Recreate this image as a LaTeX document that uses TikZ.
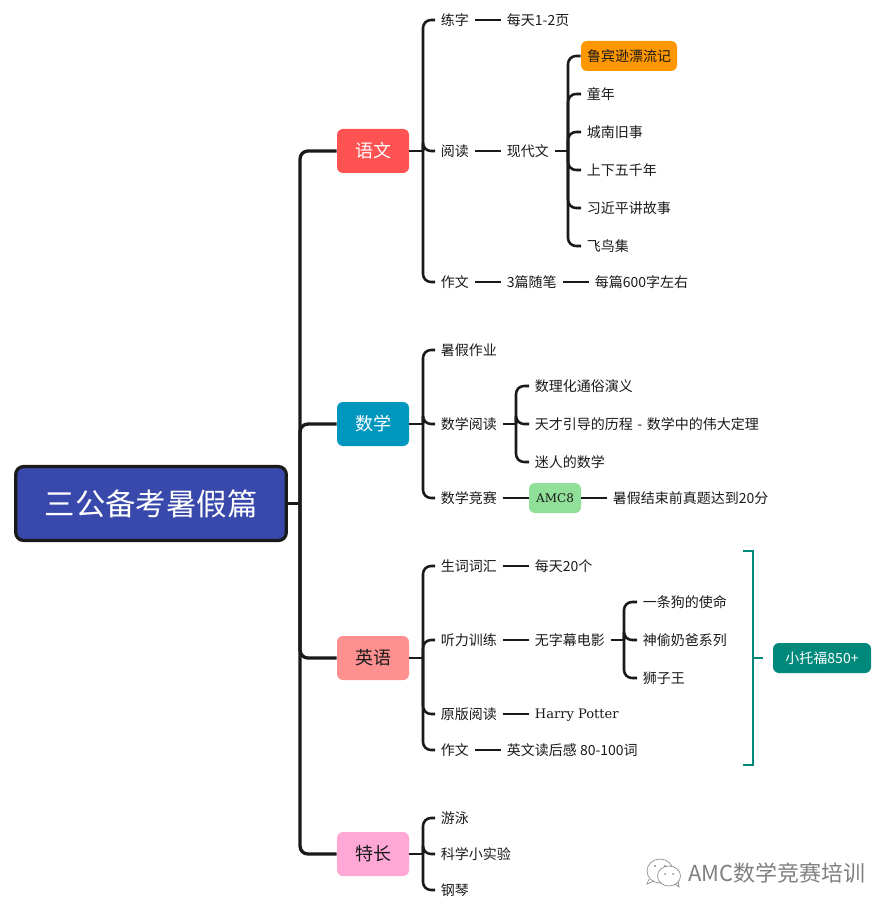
\documentclass[tikz,border=0pt]{standalone}
\usepackage{fontspec}
\setmainfont{Noto Sans CJK SC}
\newfontfamily\latfont{DejaVu Serif}
\definecolor{ink}{HTML}{1A1A1A}
\definecolor{tealc}{HTML}{00897B}
\definecolor{rootc}{HTML}{3949AB}
\definecolor{ywc}{HTML}{FF5252}
\definecolor{sxc}{HTML}{0097BF}
\definecolor{yyc}{HTML}{FF9090}
\definecolor{tcc}{HTML}{FFA8D5}
\definecolor{orc}{HTML}{FF9800}
\definecolor{grc}{HTML}{90E09A}
\begin{document}
\begin{tikzpicture}[x=0.75pt,y=-0.75pt,
  lk/.style={draw=ink,line width=1.9pt},
  mainlk/.style={draw=ink,line width=2.5pt},
  rc/.style={rounded corners=6pt},
  txt/.style={anchor=west,inner xsep=4.2pt,inner ysep=1pt,font=\fontsize{10.5}{12}\selectfont,text=ink},
  topic/.style={rounded corners=4.5pt,minimum width=54pt,minimum height=33pt,inner sep=0pt,font=\fontsize{13.5}{16}\selectfont},
  tagbox/.style={rounded corners=4.5pt,inner sep=0pt,minimum height=22.5pt,font=\fontsize{10.5}{12}\selectfont}]
\useasboundingbox (0,0) rectangle (893,912);
\fill[white] (0,0) rectangle (893,912);
% root and topics
\node[draw=ink,line width=2.4pt,fill=rootc,rounded corners=6pt,minimum width=203pt,minimum height=55.5pt,inner sep=0pt,text=white,font=\fontsize{22.8}{26}\selectfont] (root) at (151,503.5) {三公备考暑假篇};
\node[topic,fill=ywc,text=white] (yw) at (373,151) {语文};
\node[topic,fill=sxc,text=white] (sx) at (373,424) {数学};
\node[topic,fill=yyc,text=ink] (yy) at (373,658) {英语};
\node[topic,fill=tcc,text=ink] (tc) at (373,854) {特长};
% level 2
\node[txt] (a1) at (435,20) {练字};
\node[txt] (a2) at (435,151) {阅读};
\node[txt] (a3) at (435,282) {作文};
\node[txt] (b1) at (435,350) {暑假作业};
\node[txt] (b2) at (435,424) {数学阅读};
\node[txt] (b3) at (435,498) {数学竞赛};
\node[txt] (c1) at (435,566) {生词词汇};
\node[txt] (c2) at (435,640) {听力训练};
\node[txt] (c3) at (435,714) {原版阅读};
\node[txt] (c4) at (435,750) {作文};
\node[txt] (d1) at (435,818) {游泳};
\node[txt] (d2) at (435,854) {科学小实验};
\node[txt] (d3) at (435,890) {钢琴};
% level 3
\node[txt] (a1x) at (501,20) {每天1-2页};
\node[txt] (a2x) at (501,151) {现代文};
\node[txt] (a3x) at (501,282) {3篇随笔};
\node[txt] (a3y) at (589,282) {每篇600字左右};
\node[fill=orc,tagbox,minimum width=72pt,text=ink] (r1) at (629,56) {鲁宾逊漂流记};
\node[txt] (r2) at (581,94) {童年};
\node[txt] (r3) at (581,132) {城南旧事};
\node[txt] (r4) at (581,170) {上下五千年};
\node[txt] (r5) at (581,208) {习近平讲故事};
\node[txt] (r6) at (581,246) {飞鸟集};
\node[txt] (m1) at (529,386) {数理化通俗演义};
\node[txt] (m2) at (529,424) {天才引导的历程\hspace{1.1pt} - \hspace{1.1pt}数学中的伟大定理};
\node[txt] (m3) at (529,462) {迷人的数学};
\node[tagbox,fill=grc,minimum width=39pt,text=ink] (amc) at (555,498) {\fontsize{9}{12}\latfont AMC8};
\node[txt] (amcx) at (607,498) {暑假结束前真题达到20分};
\node[txt] (c1x) at (529,566) {每天20个};
\node[txt] (c2x) at (529,640) {无字幕电影};
\node[txt] (f1) at (637,602) {一条狗的使命};
\node[txt] (f2) at (637,640) {神偷奶爸系列};
\node[txt] (f3) at (637,678) {狮子王};
\node[txt] (c3x) at (529,714.8) {\fontsize{9.8}{12}\latfont Harry Potter};
\node[txt] (c4x) at (501,750) {英文读后感 80-100词};
\node[tagbox,fill=tealc,minimum width=73.5pt,text=white] (toefl) at (822,658) {小托福850+};
% spine
\coordinate (s0) at (300,503.5);
\draw[mainlk] (root.east) -- (s0);
\foreach \t in {yw,sx,yy,tc} \draw[mainlk,rc] (s0) |- (\t.west);
% bracket helpers
\coordinate (ya) at (423,151);
\coordinate (yb) at (423,424);
\coordinate (yc) at (423,658);
\coordinate (yd) at (423,854);
\draw[lk] (yw.east) -- (ya);
\draw[lk] (sx.east) -- (yb);
\draw[lk] (yy.east) -- (yc);
\draw[lk] (tc.east) -- (yd);
\foreach \t in {a1,a2,a3} \draw[lk,rc] (ya) |- (\t.west);
\foreach \t in {b1,b2,b3} \draw[lk,rc] (yb) |- (\t.west);
\foreach \t in {c1,c2,c3,c4} \draw[lk,rc] (yc) |- (\t.west);
\foreach \t in {d1,d2,d3} \draw[lk,rc] (yd) |- (\t.west);
% level 2-3 links
\draw[lk] (a1) -- (a1x);
\draw[lk] (a2) -- (a2x);
\draw[lk] (a3) -- (a3x);
\draw[lk] (a3x) -- (a3y);
\draw[lk] (c1) -- (c1x);
\draw[lk] (c2) -- (c2x);
\draw[lk] (c3.east) -- (c3x.west|-c3.east);
\draw[lk] (c4) -- (c4x);
\draw[lk] (b3) -- (amc);
\draw[lk] (amc) -- (amcx);
\coordinate (yr) at (568,151);
\draw[lk] (a2x.east) -- (yr);
\foreach \t in {r1,r2,r3,r4,r5,r6} \draw[lk,rc] (yr) |- (\t.west);
\coordinate (ym) at (516,424);
\draw[lk] (b2.east) -- (ym);
\foreach \t in {m1,m2,m3} \draw[lk,rc] (ym) |- (\t.west);
\coordinate (yf) at (624,640);
\draw[lk] (c2x.east) -- (yf);
\foreach \t in {f1,f2,f3} \draw[lk,rc] (yf) |- (\t.west);
% summary bracket
\coordinate (bt) at (743,551);
\coordinate (bb) at (743,765);
\coordinate (bm) at (763,658);
\draw[tealc,line width=1.6pt] (bt) -- (753,551) -- (753,765) -- (bb);
\draw[tealc,line width=1.6pt] (753,658) -- (bm);
% watermark
\begin{scope}[draw=black!45,line width=0.5pt]
  \draw[fill=white] (660,871) ellipse (13 and 12);
  \draw (649,879) -- (647,884) -- (654,881);
  \fill[black!45] (655,866) circle (1.1) (665,866) circle (1.1);
  \draw[fill=white] (669,876) ellipse (11.5 and 10);
  \draw (675,884) -- (679,887) -- (678,881);
  \fill[black!45] (665,874) circle (1) (673,874) circle (1);
\end{scope}
\node[anchor=west,inner sep=0pt,text=black!50,font=\fontsize{16.5}{18}\selectfont] (wm) at (688,873) {AMC数学竞赛培训};
\end{tikzpicture}
\end{document}
